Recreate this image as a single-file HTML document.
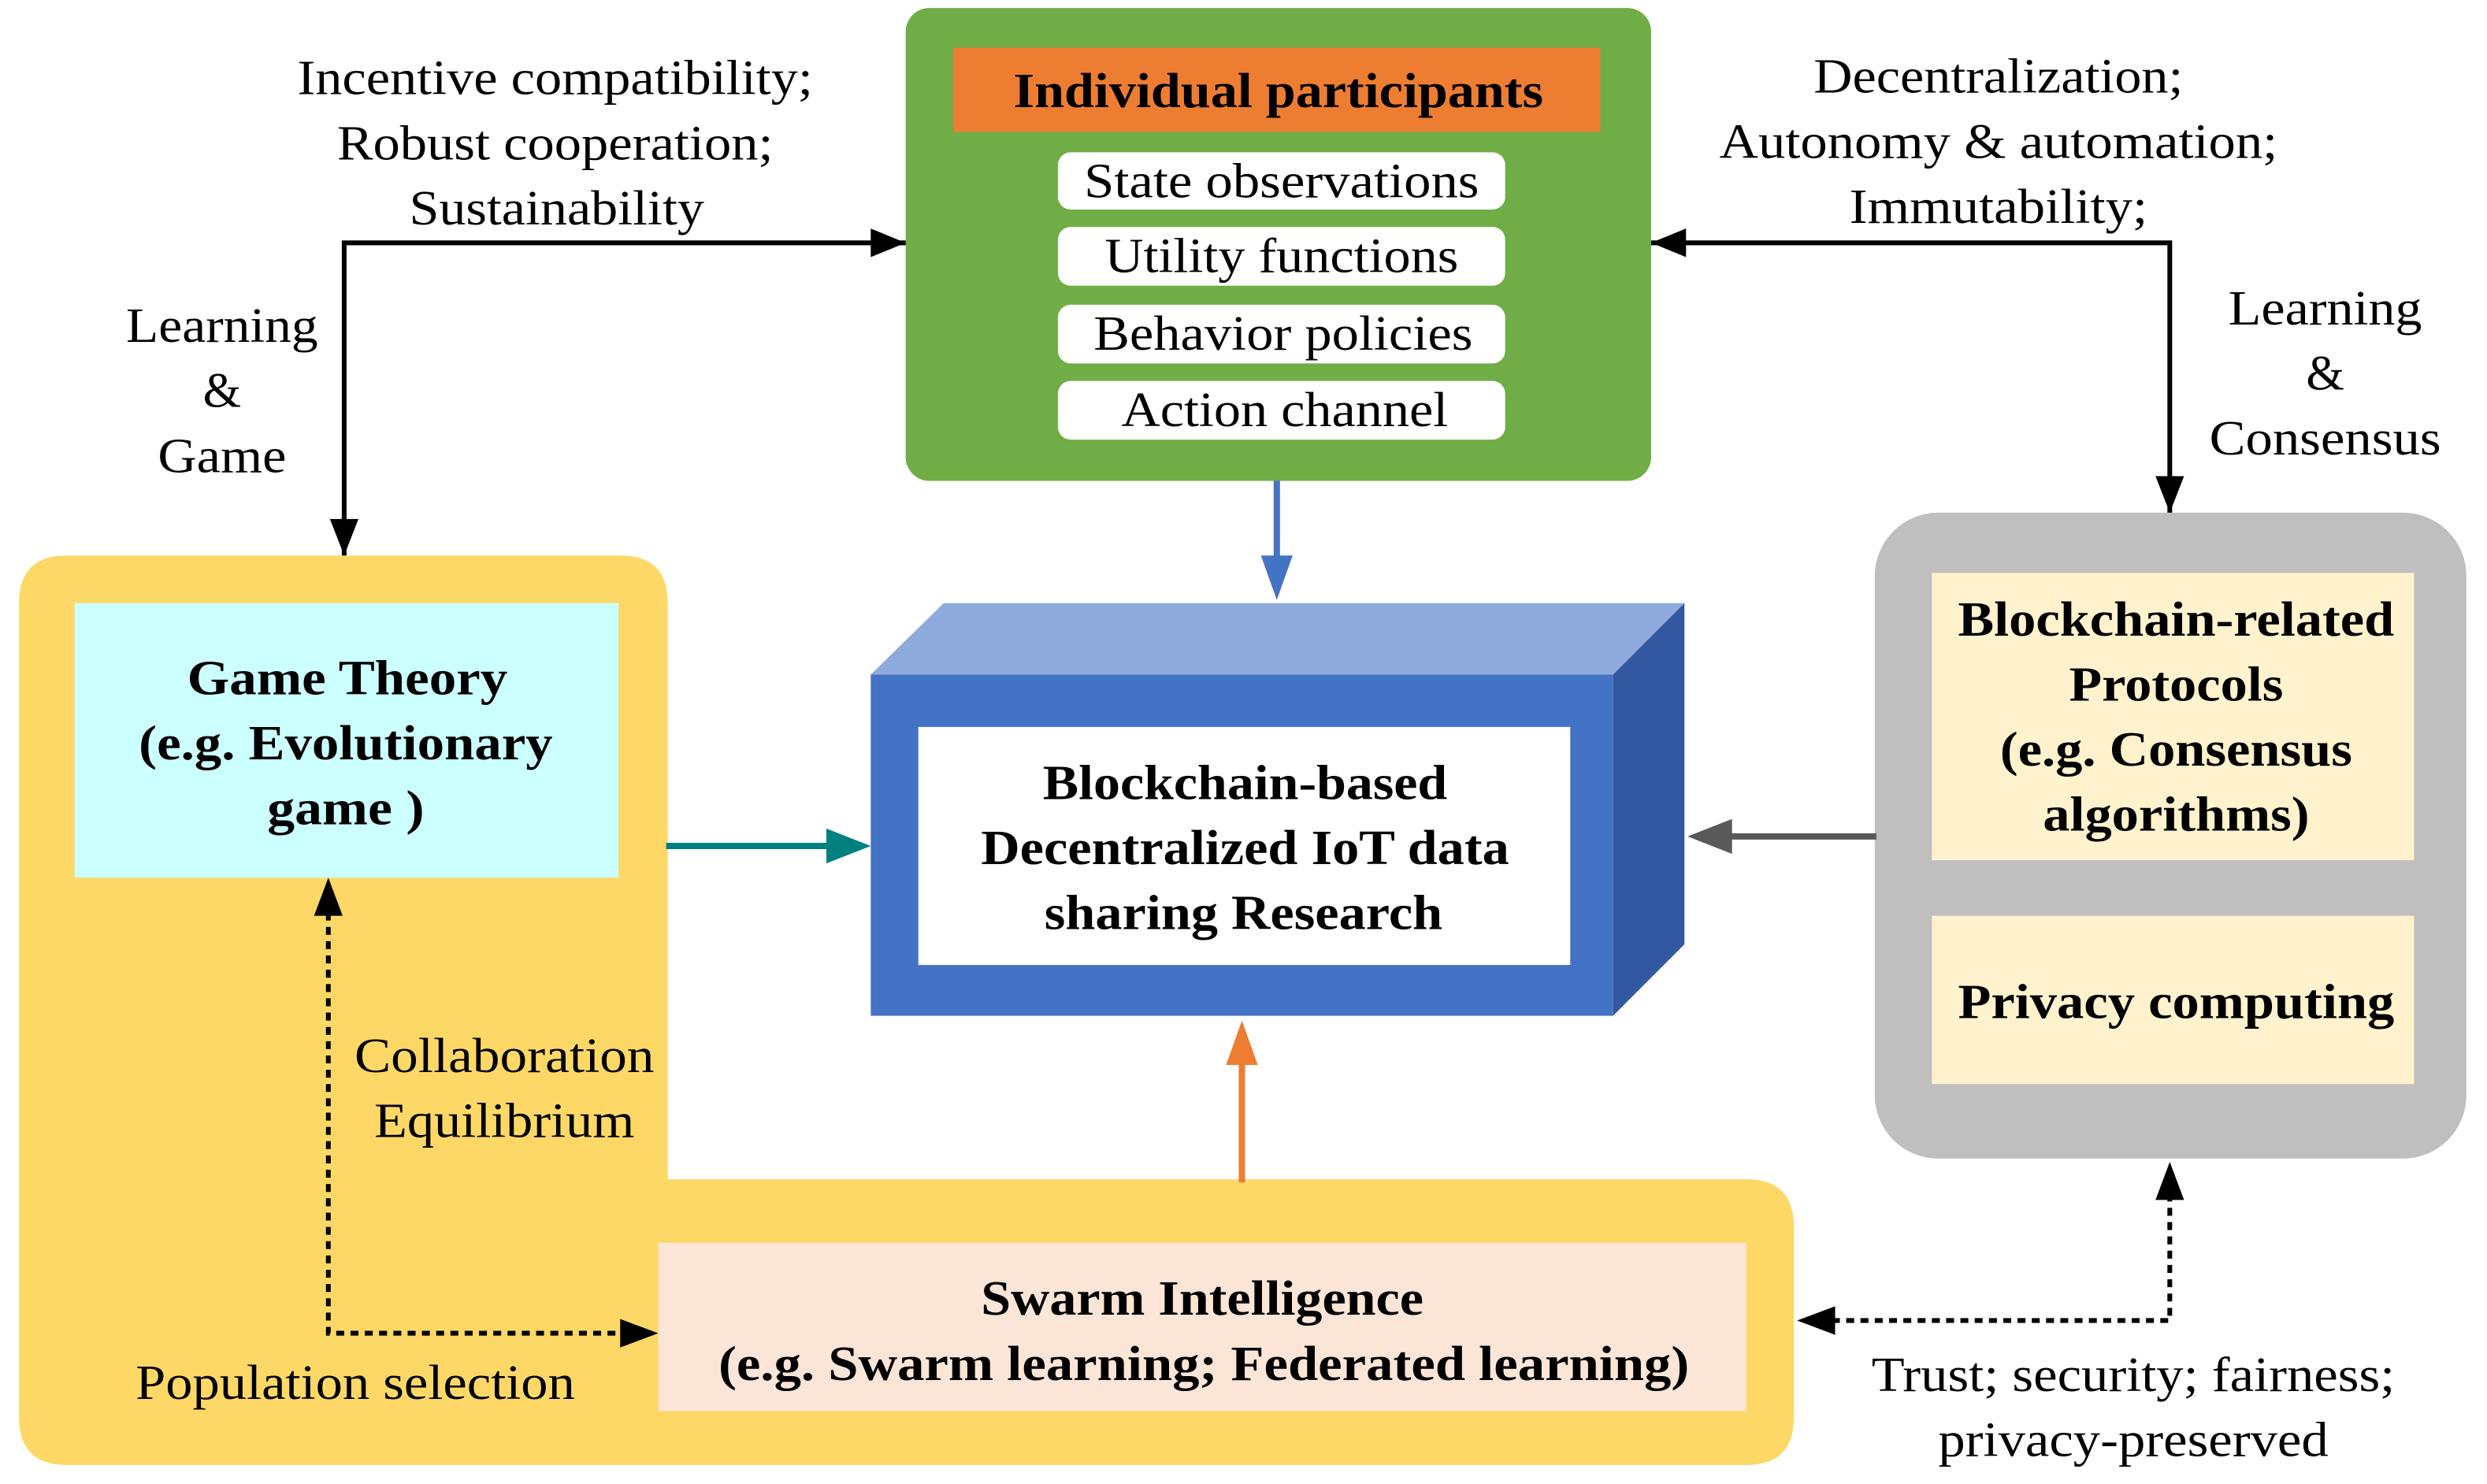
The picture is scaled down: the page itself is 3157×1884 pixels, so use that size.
<!DOCTYPE html>
<html><head><meta charset="utf-8"><style>
html,body{margin:0;padding:0;background:#fff;}
svg{display:block;}
text{font-family:"Liberation Serif","Times New Roman","DejaVu Serif",serif;font-size:31px;fill:#000;}
.b{font-weight:bold;}
</style></head><body>
<svg width="3157" height="1884" viewBox="0 0 1568 935" preserveAspectRatio="none" xmlns="http://www.w3.org/2000/svg">
<!-- yellow L -->
<path d="M42,350 H391 Q421,350 421,380 V743 H1101 Q1131,743 1131,773 V893 Q1131,923 1101,923 H42 Q12,923 12,893 V380 Q12,350 42,350 Z" fill="#FDD866"/>
<!-- green box -->
<rect x="571" y="5" width="470" height="298" rx="15" fill="#70AD47"/>
<rect x="601" y="30" width="408" height="53" fill="#ED7D31"/>
<text class="b" x="806" y="57" text-anchor="middle" dominant-baseline="central" textLength="334" lengthAdjust="spacingAndGlyphs">Individual participants</text>
<rect x="667" y="96" width="282" height="36" rx="8" fill="#fff"/>
<rect x="667" y="143" width="282" height="37" rx="8" fill="#fff"/>
<rect x="667" y="192" width="282" height="37" rx="8" fill="#fff"/>
<rect x="667" y="240" width="282" height="37" rx="8" fill="#fff"/>
<text x="808" y="114" text-anchor="middle" dominant-baseline="central" textLength="249" lengthAdjust="spacingAndGlyphs">State observations</text>
<text x="808" y="161" text-anchor="middle" dominant-baseline="central" textLength="223" lengthAdjust="spacingAndGlyphs">Utility functions</text>
<text x="809" y="210" text-anchor="middle" dominant-baseline="central" textLength="239" lengthAdjust="spacingAndGlyphs">Behavior policies</text>
<text x="810" y="258" text-anchor="middle" dominant-baseline="central" textLength="206" lengthAdjust="spacingAndGlyphs">Action channel</text>
<!-- left texts -->
<text x="350" y="49" text-anchor="middle" dominant-baseline="central" textLength="325" lengthAdjust="spacingAndGlyphs">Incentive compatibility;</text>
<text x="350" y="90" text-anchor="middle" dominant-baseline="central" textLength="275" lengthAdjust="spacingAndGlyphs">Robust cooperation;</text>
<text x="351" y="131" text-anchor="middle" dominant-baseline="central" textLength="186" lengthAdjust="spacingAndGlyphs">Sustainability</text>
<text x="140" y="205" text-anchor="middle" dominant-baseline="central" textLength="121" lengthAdjust="spacingAndGlyphs">Learning</text>
<text x="140" y="246" text-anchor="middle" dominant-baseline="central">&amp;</text>
<text x="140" y="287" text-anchor="middle" dominant-baseline="central" textLength="81" lengthAdjust="spacingAndGlyphs">Game</text>
<!-- right texts -->
<text x="1260" y="48" text-anchor="middle" dominant-baseline="central" textLength="233" lengthAdjust="spacingAndGlyphs">Decentralization;</text>
<text x="1260" y="89" text-anchor="middle" dominant-baseline="central" textLength="352" lengthAdjust="spacingAndGlyphs">Autonomy &amp; automation;</text>
<text x="1260" y="130" text-anchor="middle" dominant-baseline="central" textLength="188" lengthAdjust="spacingAndGlyphs">Immutability;</text>
<text x="1466" y="194" text-anchor="middle" dominant-baseline="central" textLength="122" lengthAdjust="spacingAndGlyphs">Learning</text>
<text x="1466" y="235" text-anchor="middle" dominant-baseline="central">&amp;</text>
<text x="1466" y="276" text-anchor="middle" dominant-baseline="central" textLength="146" lengthAdjust="spacingAndGlyphs">Consensus</text>
<!-- black arrows -->
<path d="M217,350 V153 H571" fill="none" stroke="#000" stroke-width="3"/>
<path d="M571,153 L549,144 L549,162 z" fill="#000"/>
<path d="M217,350 L208,327 L226,327 z" fill="#000"/>
<path d="M1041,153 H1368 V323" fill="none" stroke="#000" stroke-width="3"/>
<path d="M1041,153 L1063,144 L1063,162 z" fill="#000"/>
<path d="M1368,323 L1359,300 L1377,300 z" fill="#000"/>
<!-- game theory -->
<rect x="47" y="380" width="343" height="173" fill="#CCFFFF"/>
<text class="b" x="219" y="427" text-anchor="middle" dominant-baseline="central" textLength="202" lengthAdjust="spacingAndGlyphs">Game Theory</text>
<text class="b" x="218" y="468" text-anchor="middle" dominant-baseline="central" textLength="261" lengthAdjust="spacingAndGlyphs">(e.g. Evolutionary</text>
<text class="b" x="218" y="509" text-anchor="middle" dominant-baseline="central" textLength="99" lengthAdjust="spacingAndGlyphs">game )</text>
<!-- 3D box -->
<polygon points="549,425 595,380 1062,380 1017,425" fill="#8FAADC"/>
<polygon points="1017,425 1062,380 1062,595 1017,640" fill="#3358A2"/>
<rect x="549" y="425" width="468" height="215" fill="#4472C4"/>
<rect x="579" y="458" width="411" height="150" fill="#fff"/>
<text class="b" x="785" y="493" text-anchor="middle" dominant-baseline="central" textLength="255" lengthAdjust="spacingAndGlyphs">Blockchain-based</text>
<text class="b" x="785" y="534" text-anchor="middle" dominant-baseline="central" textLength="333" lengthAdjust="spacingAndGlyphs">Decentralized IoT data</text>
<text class="b" x="784" y="575" text-anchor="middle" dominant-baseline="central" textLength="251" lengthAdjust="spacingAndGlyphs">sharing Research</text>
<!-- colored arrows -->
<line x1="420" y1="533" x2="528" y2="533" stroke="#00807F" stroke-width="4"/>
<path d="M549,533 L521,522 L521,544 z" fill="#00807F"/>
<line x1="805" y1="303" x2="805" y2="355" stroke="#4472C4" stroke-width="4"/>
<path d="M805,378 L795,350 L815,350 z" fill="#4472C4"/>
<line x1="783" y1="745" x2="783" y2="668" stroke="#ED7D31" stroke-width="4"/>
<path d="M783,643 L773,671 L793,671 z" fill="#ED7D31"/>
<!-- gray box -->
<rect x="1182" y="323" width="373" height="407" rx="40" fill="#BFBFBF"/>
<rect x="1218" y="361" width="304" height="181" fill="#FFF2CC"/>
<rect x="1218" y="577" width="304" height="106" fill="#FFF2CC"/>
<text class="b" x="1372" y="390" text-anchor="middle" dominant-baseline="central" textLength="275" lengthAdjust="spacingAndGlyphs">Blockchain-related</text>
<text class="b" x="1372" y="431" text-anchor="middle" dominant-baseline="central" textLength="135" lengthAdjust="spacingAndGlyphs">Protocols</text>
<text class="b" x="1372" y="472" text-anchor="middle" dominant-baseline="central" textLength="222" lengthAdjust="spacingAndGlyphs">(e.g. Consensus</text>
<text class="b" x="1372" y="513" text-anchor="middle" dominant-baseline="central" textLength="168" lengthAdjust="spacingAndGlyphs">algorithms)</text>
<text class="b" x="1372" y="631" text-anchor="middle" dominant-baseline="central" textLength="275" lengthAdjust="spacingAndGlyphs">Privacy computing</text>
<line x1="1183" y1="527" x2="1088" y2="527" stroke="#595959" stroke-width="4"/>
<path d="M1064,527 L1092,516 L1092,538 z" fill="#595959"/>
<!-- swarm -->
<rect x="415" y="783" width="686" height="106" fill="#FBE5D6"/>
<text class="b" x="758" y="818" text-anchor="middle" dominant-baseline="central" textLength="279" lengthAdjust="spacingAndGlyphs">Swarm Intelligence</text>
<text class="b" x="759" y="859" text-anchor="middle" dominant-baseline="central" textLength="612" lengthAdjust="spacingAndGlyphs">(e.g. Swarm learning; Federated learning)</text>
<!-- dotted arrows -->
<path d="M207,575 V840 H393" fill="none" stroke="#000" stroke-width="3" stroke-dasharray="5,4"/>
<path d="M207,553 L198,577 L216,577 z" fill="#000"/>
<path d="M415,840 L391,831 L391,849 z" fill="#000"/>
<path d="M1155,832 H1368 V754" fill="none" stroke="#000" stroke-width="3" stroke-dasharray="5,4"/>
<path d="M1133,832 L1157,823 L1157,841 z" fill="#000"/>
<path d="M1368,732 L1359,756 L1377,756 z" fill="#000"/>
<!-- misc texts -->
<text x="318" y="665" text-anchor="middle" dominant-baseline="central" textLength="189" lengthAdjust="spacingAndGlyphs">Collaboration</text>
<text x="318" y="706" text-anchor="middle" dominant-baseline="central" textLength="164" lengthAdjust="spacingAndGlyphs">Equilibrium</text>
<text x="224" y="871" text-anchor="middle" dominant-baseline="central" textLength="277" lengthAdjust="spacingAndGlyphs">Population selection</text>
<text x="1345" y="866" text-anchor="middle" dominant-baseline="central" textLength="330" lengthAdjust="spacingAndGlyphs">Trust; security; fairness;</text>
<text x="1345" y="907" text-anchor="middle" dominant-baseline="central" textLength="246" lengthAdjust="spacingAndGlyphs">privacy-preserved</text>
</svg>
</body></html>
